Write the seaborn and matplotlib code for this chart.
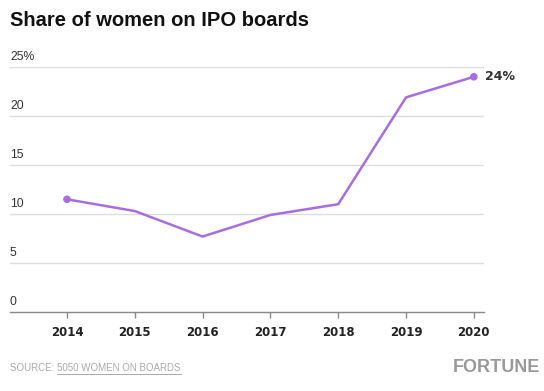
import matplotlib
matplotlib.use("Agg")
import matplotlib.pyplot as plt
import seaborn as sns
import pandas as pd
from matplotlib.lines import Line2D

years = [2014, 2015, 2016, 2017, 2018, 2019, 2020]
share = [11.5, 10.3, 7.7, 9.9, 11.0, 21.9, 24.0]
ytick_vals = [0, 5, 10, 15, 20, 25]
ytick_labels = ["0", "5", "10", "15", "20", "25%"]
title = "Share of women on IPO boards"
end_label = "24%"

sns.set_theme(style="white")
plt.rcParams['font.family'] = ['DejaVu Sans']

W, H = 544, 391
fig = plt.figure(figsize=(W / 100, H / 100), dpi=100)
ax = fig.add_axes([10 / W, 1 - 312 / H, (484 - 10) / W, (312 - 67) / H])

df = pd.DataFrame({"year": years, "share": share})
purple = "#a66ee0"
sns.lineplot(data=df, x="year", y="share", ax=ax, color=purple, linewidth=1.8)
ends = df.iloc[[0, -1]]
sns.scatterplot(data=ends, x="year", y="share", ax=ax, color=purple, s=30,
                edgecolor="none", zorder=5)

ax.set_xlim(2013.16, 2020.15)
ax.set_ylim(0, 25)
for v in ytick_vals[1:]:
    ax.axhline(v, color="#dddddd", linewidth=1, zorder=0)
for s in ["top", "right", "left"]:
    ax.spines[s].set_visible(False)
ax.spines["bottom"].set_color("#888888")
ax.spines["bottom"].set_linewidth(1)

ax.set_yticks([])
for v, lab in zip(ytick_vals, ytick_labels):
    ax.text(2013.16, v + 0.45, lab, fontsize=8.8, color="#333333",
            ha="left", va="bottom", family=["Liberation Sans"])

ax.set_xticks(years)
ax.set_xticklabels([str(y) for y in years], fontsize=8.5, fontweight="bold",
                   color="#222222")
ax.tick_params(axis="x", length=4, width=1, color="#888888", pad=6, bottom=True)
ax.set_xlabel("")
ax.set_ylabel("")

ax.annotate(end_label, xy=(years[-1], share[-1]), xytext=(8, 0),
            textcoords="offset points", fontsize=9, fontweight="bold",
            color="#333333", ha="left", va="center")

fig.text(10 / W, 1 - 20 / H, title, fontsize=14.5, fontweight="bold",
         color="#111111", ha="left", va="center", family=["Liberation Sans"])

src1 = fig.text(10 / W, 1 - 368 / H, "SOURCE: ", fontsize=7, color="#aaaaaa",
                ha="left", va="center", family=["Liberation Sans"])
fig.canvas.draw()
bb = src1.get_window_extent()
src2 = fig.text(bb.x1 / W, 1 - 368 / H, "5050 WOMEN ON BOARDS", fontsize=7,
                color="#aaaaaa", ha="left", va="center", family=["Liberation Sans"])
fig.canvas.draw()
bb2 = src2.get_window_extent()
uy = (bb2.y0 - 0.5) / H
fig.add_artist(Line2D([bb2.x0 / W, bb2.x1 / W], [uy, uy], color="#aaaaaa",
                      linewidth=0.7, transform=fig.transFigure))
fig.text(540 / W, 1 - 368 / H, "FORTUNE", fontsize=13, fontweight="bold",
         color="#999999", ha="right", va="center", family=["Liberation Sans Narrow", "Liberation Sans"])

fig.savefig("out.png", dpi=100)
